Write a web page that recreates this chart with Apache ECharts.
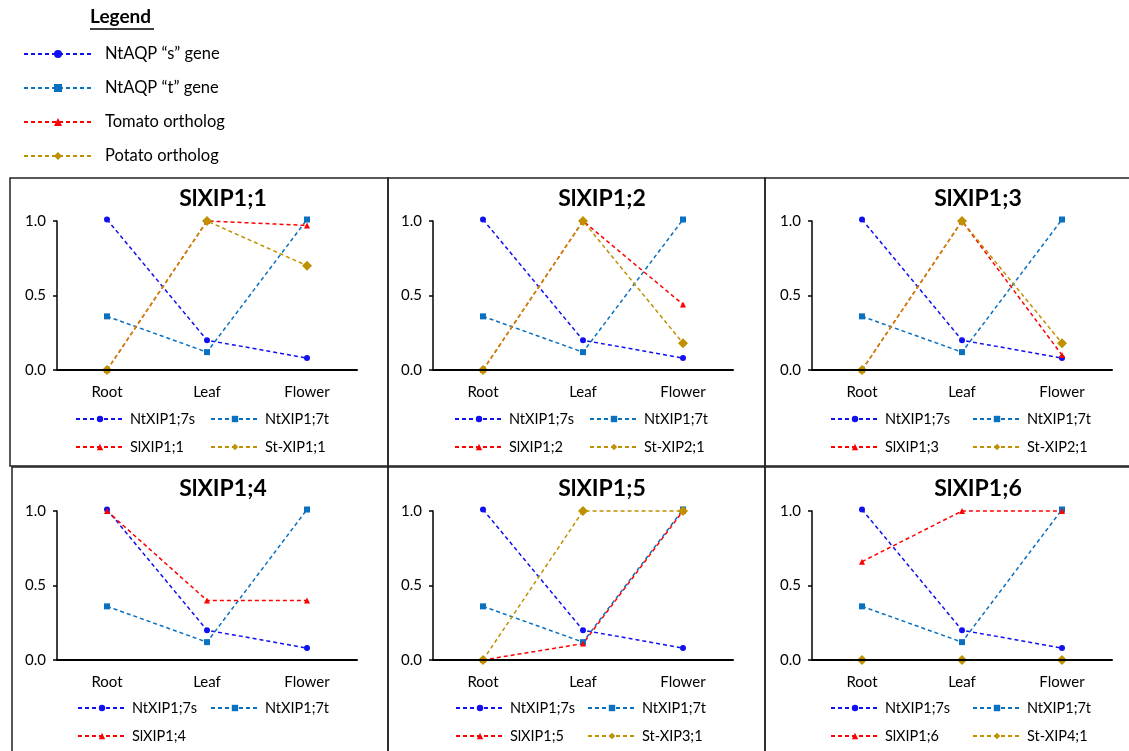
<!DOCTYPE html>
<html>
<head>
<meta charset="utf-8">
<script src="https://cdn.jsdelivr.net/npm/echarts@6/dist/echarts.min.js"></script>
<style>
html, body { margin: 0; padding: 0; background: #fff; }
#main { width: 1129px; height: 751px; }
</style>
</head>
<body>
<div id="main"></div>
<script>
// tissues on the x axis, same for every panel
const tissues = ['Root', 'Leaf', 'Flower'];
const yTicks = [0, 0.5, 1.0];

const panelTitles = ['SlXIP1;1', 'SlXIP1;2', 'SlXIP1;3', 'SlXIP1;4', 'SlXIP1;5', 'SlXIP1;6'];

// tobacco genes (same in all panels)
const ntSValues = [1.01, 0.20, 0.08];
const ntTValues = [0.36, 0.12, 1.01];

// tomato orthologs
const tomatoNames = ['SlXIP1;1', 'SlXIP1;2', 'SlXIP1;3', 'SlXIP1;4', 'SlXIP1;5', 'SlXIP1;6'];
const tomatoValues = [
  [0, 1.0, 0.97],
  [0, 1.0, 0.44],
  [0, 1.0, 0.10],
  [1.0, 0.40, 0.40],
  [0, 0.11, 1.0],
  [0.66, 1.0, 1.0]
];

// potato orthologs (panel 4 has none)
const potatoNames = ['St-XIP1;1', 'St-XIP2;1', 'St-XIP2;1', null, 'St-XIP3;1', 'St-XIP4;1'];
const potatoValues = [
  [0, 1.0, 0.70],
  [0, 1.0, 0.18],
  [0, 1.0, 0.18],
  null,
  [0, 1.0, 1.0],
  [0, 0, 0]
];

const keyLabels = ['NtAQP \u201cs\u201d gene', 'NtAQP \u201ct\u201d gene', 'Tomato ortholog', 'Potato ortholog'];

const FONT = 'Lato, "Noto Sans", sans-serif';

const look = {
  s:  { color: '#1010f0', symbol: 'circle',   size: 6 },
  t:  { color: '#0a70c0', symbol: 'rect',     size: 6 },
  sl: { color: '#ff0000', symbol: 'triangle', size: 6 },
  st: { color: '#bf9000', symbol: 'diamond',  size: 10 }
};

// panel placement
const gridLeft = [57, 433, 812, 57, 433, 812];
const gridTop = [221, 221, 221, 511, 511, 511];
const titleX = [223, 602, 978, 223, 602, 978];
const legCol1 = [75, 454, 830, 77, 455, 830];
const legCol2 = [210, 589, 972, 210, 587, 972];

function lineSeries(name, values, key, idx) {
  const l = look[key];
  return {
    type: 'line',
    name: name,
    xAxisIndex: idx,
    yAxisIndex: idx,
    data: values,
    clip: false,
    symbol: l.symbol,
    symbolSize: l.size,
    itemStyle: { color: l.color },
    lineStyle: { color: l.color, width: 1.5, type: [4, 3] },
    emphasis: { disabled: true },
    animation: false
  };
}

const grids = [], xAxes = [], yAxes = [], titles = [], legends = [], series = [];

panelTitles.forEach(function (t, i) {
  const row = i < 3 ? 0 : 1;
  grids.push({ left: gridLeft[i], top: gridTop[i], width: 300, height: 149 });
  xAxes.push({
    type: 'category', gridIndex: i, data: tissues, boundaryGap: true,
    axisLine: { lineStyle: { color: '#000', width: 2 } },
    axisTick: { show: false },
    axisLabel: { color: '#000', fontSize: 15, fontFamily: FONT, margin: 15 },
    zlevel: 1
  });
  yAxes.push({
    type: 'value', gridIndex: i, min: yTicks[0], max: yTicks[yTicks.length - 1], interval: 0.5,
    axisLine: { show: true, lineStyle: { color: '#000', width: 1.5 } },
    axisTick: { show: true, length: 4, lineStyle: { color: '#000', width: 1.5 } },
    splitLine: { show: false },
    axisLabel: { color: '#000', fontSize: 15, fontFamily: FONT, margin: 11,
      formatter: function (v) { return v.toFixed(1); } }
  });
  titles.push({
    text: t, left: titleX[i], top: row === 0 ? 187 : 477, textAlign: 'center', padding: 0,
    textStyle: { fontSize: 23, fontWeight: 'bold', color: '#000', fontFamily: FONT }
  });

  series.push(lineSeries('NtXIP1;7s', ntSValues, 's', i));
  series.push(lineSeries('NtXIP1;7t', ntTValues, 't', i));
  series.push(lineSeries(tomatoNames[i], tomatoValues[i], 'sl', i));
  if (potatoValues[i]) series.push(lineSeries(potatoNames[i], potatoValues[i], 'st', i));

  const legTop = row === 0 ? 411 : 700;
  const col1 = ['NtXIP1;7s', tomatoNames[i]];
  const col2 = potatoNames[i] ? ['NtXIP1;7t', potatoNames[i]] : ['NtXIP1;7t'];
  [[col1, legCol1[i]], [col2, legCol2[i]]].forEach(function (c) {
    legends.push({
      orient: 'vertical', left: c[1], top: legTop, padding: 0,
      itemWidth: 48, itemHeight: 8, itemGap: 12,
      selectedMode: false, data: c[0],
      textStyle: { color: '#000', fontSize: 14.5, lineHeight: 16, fontFamily: FONT, padding: [0, 0, 0, 1] }
    });
  });
});

// key at the top of the figure: series without marks, only used by the legend
['s', 't', 'sl', 'st'].forEach(function (k, j) {
  series.push(lineSeries(keyLabels[j], [], k, 0));
});
legends.push({
  orient: 'vertical', left: 23, top: 44, padding: 0,
  itemWidth: 68, itemHeight: 10, itemGap: 14,
  selectedMode: false, data: keyLabels,
  textStyle: { color: '#000', fontSize: 16.5, lineHeight: 20, fontFamily: FONT, padding: [0, 0, 0, 8] }
});

// panel frames
const frames = [
  [10, 178, 378, 288], [388, 178, 377, 288], [765, 178, 380, 288],
  [12, 467, 376, 300], [388, 467, 377, 300], [765, 467, 380, 300]
];
const graphics = frames.map(function (f) {
  return { type: 'rect', shape: { x: f[0], y: f[1], width: f[2], height: f[3] },
    style: { fill: 'none', stroke: '#222', lineWidth: 1.5 }, silent: true };
});
graphics.push({ type: 'text', left: 90, top: 7,
  style: { text: 'Legend', font: 'bold 19px ' + FONT, fill: '#000' } });
graphics.push({ type: 'line', shape: { x1: 90, y1: 29, x2: 154, y2: 29 },
  style: { stroke: '#000', lineWidth: 1.5 } });

const chart = echarts.init(document.getElementById('main'));
chart.setOption({
  backgroundColor: '#fff',
  animation: false,
  title: titles,
  grid: grids,
  xAxis: xAxes,
  yAxis: yAxes,
  legend: legends,
  graphic: graphics,
  series: series
});
</script>
</body>
</html>
